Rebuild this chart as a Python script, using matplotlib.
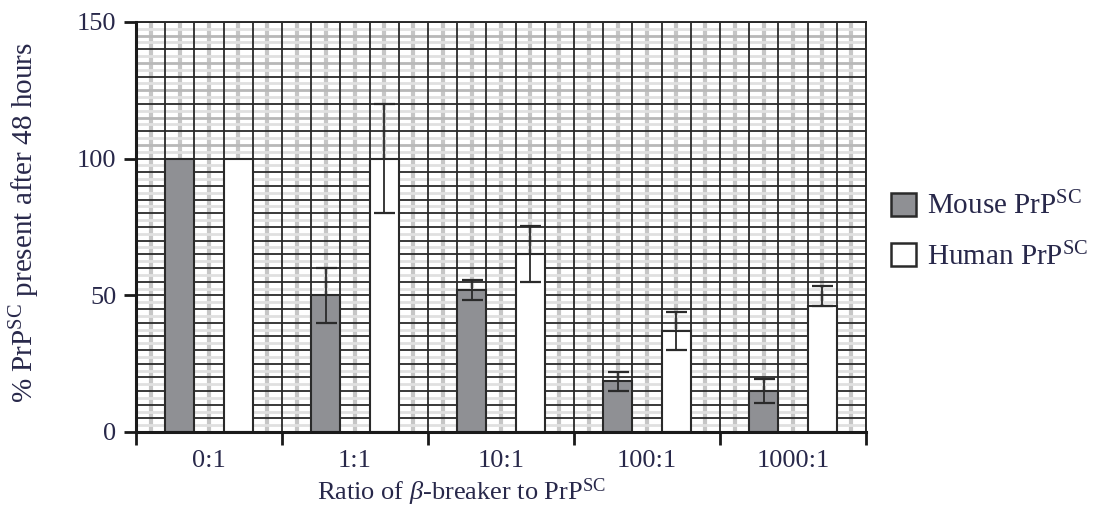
import numpy as np
import matplotlib
matplotlib.use("Agg")
import matplotlib.pyplot as plt
from matplotlib.patches import Patch

# ---- data ----
categories = ["0:1", "1:1", "10:1", "100:1", "1000:1"]
mouse_vals = [100, 50, 52, 18.5, 15]
mouse_err = [0, 10, 3.7, 3.4, 4.5]
human_vals = [100, 100, 65, 37, 46]
human_err_low = [0, 20, 10.3, 7, 0]
human_err_high = [0, 20, 10.3, 7, 7.5]
series_labels = ["Mouse PrP$^{\\mathrm{SC}}$", "Human PrP$^{\\mathrm{SC}}$"]

plt.rcParams['font.family'] = ['Liberation Serif', 'DejaVu Serif']
plt.rcParams['mathtext.fontset'] = 'custom'
plt.rcParams['mathtext.rm'] = 'Liberation Serif'
plt.rcParams['mathtext.it'] = 'Liberation Serif:italic'
plt.rcParams['mathtext.bf'] = 'Liberation Serif:bold'

TXT = '#28284a'
DARK = '#2a2a2a'
DPI = 100
fig = plt.figure(figsize=(11.06, 5.08), dpi=DPI)
ax = fig.add_axes([136/1106, 76/508, 730/1106, 410/508])

x = np.arange(len(categories))
ax.set_xlim(-0.5, len(categories) - 0.5)
ax.set_ylim(0, 150)

# graph-paper background
col_edges = np.arange(-0.5, len(categories) - 0.5 + 1e-9, 0.2)
col_mids = col_edges[:-1] + 0.1
ax.vlines(col_mids, 0, 150, colors='#c6c6c6', linewidth=3.0, zorder=0.5)
ax.hlines(np.arange(2.5, 150, 5), -0.5, 4.5, colors='#e0e0e0', linewidth=2.0, zorder=0.5)
ax.vlines(col_edges, 0, 150, colors=DARK, linewidth=1.3, zorder=1)
ax.hlines(np.arange(5, 100, 5), -0.5, 4.5, colors=DARK, linewidth=1.3, zorder=1)
ax.hlines(np.arange(100, 151, 10), -0.5, 4.5, colors=DARK, linewidth=1.3, zorder=1)
ax.hlines(np.arange(105, 150, 10), -0.5, 4.5, colors='#b8b8b8', linewidth=2.0, zorder=0.8)

w = 0.2
ax.bar(x - 0.2, mouse_vals, width=w, color='#8f9094', edgecolor=DARK,
       linewidth=1.5, zorder=2, label=series_labels[0])
ax.bar(x + 0.2, human_vals, width=w, color='white', edgecolor=DARK,
       linewidth=1.5, zorder=2, label=series_labels[1])

cap = 10.5 * 72 / DPI
for i in range(len(categories)):
    if mouse_err[i] > 0:
        ax.errorbar(x[i] - 0.2, mouse_vals[i], yerr=mouse_err[i], fmt='none',
                    ecolor=DARK, elinewidth=1.3, capsize=cap, capthick=1.6, zorder=3)
    if human_err_high[i] > 0:
        ax.errorbar(x[i] + 0.2, human_vals[i],
                    yerr=[[human_err_low[i]], [human_err_high[i]]], fmt='none',
                    ecolor=DARK, elinewidth=1.3, capsize=cap, capthick=1.6, zorder=3)

for s in ['left', 'bottom']:
    ax.spines[s].set_linewidth(2.2)
    ax.spines[s].set_color('#1a1a1a')
    ax.spines[s].set_zorder(4)
for s in ['top', 'right']:
    ax.spines[s].set_linewidth(1.4)
    ax.spines[s].set_color(DARK)

ax.set_yticks([0, 50, 100, 150])
ax.tick_params(axis='y', direction='out', length=9, width=2.0, colors='#1a1a1a',
               labelcolor=TXT, labelsize=19, pad=5)
ax.set_xticks(col_edges[::5])
ax.set_xticklabels([])
ax.tick_params(axis='x', which='major', direction='out', length=9, width=2.0, colors='#1a1a1a')
ax.set_xticks(x, minor=True)
ax.set_xticklabels(categories, minor=True)
ax.tick_params(axis='x', which='minor', length=0, labelcolor=TXT, labelsize=19, pad=13)

ax.set_xlabel("Ratio of $\\beta$-breaker to PrP$^{\\mathrm{SC}}$", fontsize=19, color=TXT)
ax.xaxis.set_label_coords((461 - 136) / 730, -45 / 410)
ax.set_ylabel("% PrP$^{\\mathrm{SC}}$ present after 48 hours", fontsize=21, color=TXT)
ax.yaxis.set_label_coords(-94 / 730, 0.5 + 4 / 410)

handles = [Patch(facecolor='#8f9094', edgecolor=DARK, linewidth=1.8),
           Patch(facecolor='white', edgecolor=DARK, linewidth=1.8)]
leg = fig.legend(handles, series_labels, loc='upper left', bbox_to_anchor=(891/1106, 1 - 192/508),
                 frameon=False, fontsize=21, handlelength=0.85, handleheight=0.85,
                 labelspacing=0.75, handletextpad=0.4, borderaxespad=0, borderpad=0)
for t in leg.get_texts():
    t.set_color(TXT)

fig.savefig("out.png", dpi=DPI)
